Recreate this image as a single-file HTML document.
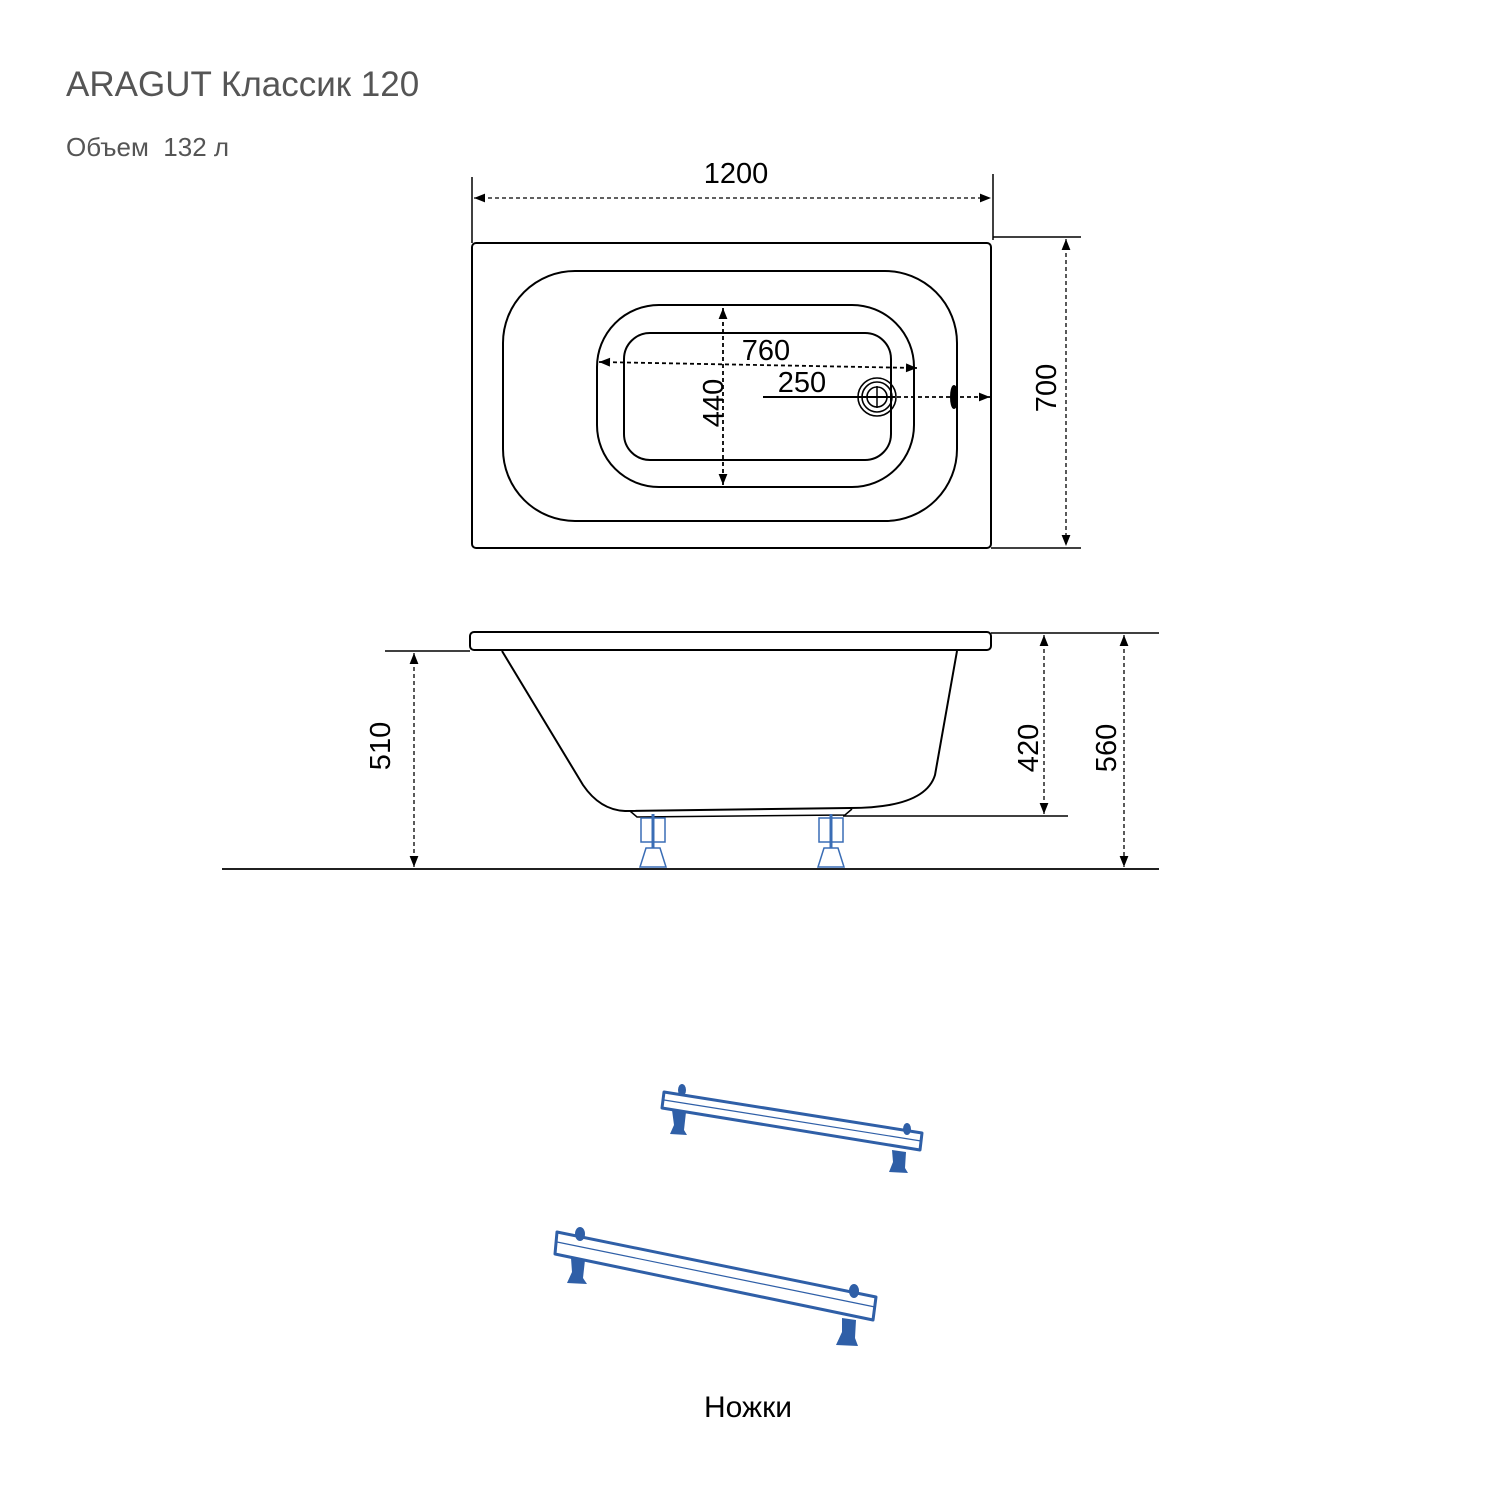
<!DOCTYPE html>
<html><head><meta charset="utf-8"><style>
html,body{margin:0;padding:0;background:#fff}
svg{display:block}
text{font-family:"Liberation Sans",sans-serif}
</style></head><body>
<svg width="1500" height="1500" viewBox="0 0 1500 1500" xmlns="http://www.w3.org/2000/svg">
<defs>
<marker id="a" viewBox="0 0 10 10" refX="10" refY="5" markerWidth="16" markerHeight="11" markerUnits="userSpaceOnUse" orient="auto-start-reverse"><path d="M0,1 L10,5 L0,9 z" fill="#000"/></marker>
</defs>
<text x="66" y="96" font-size="35" fill="#555">ARAGUT Классик 120</text>
<text x="66" y="156" font-size="26" fill="#555">Объем &#160;132 л</text>

<g fill="none" stroke="#000" stroke-width="2">
<rect x="472" y="243" width="519" height="305" rx="4"/>
<rect x="503" y="271" width="454" height="250" rx="72"/>
<rect x="597" y="305" width="317" height="182" rx="62"/>
<rect x="624" y="333" width="267" height="127" rx="26"/>
<line x1="472" y1="177" x2="472" y2="243" stroke-width="1.5"/>
<line x1="993" y1="174" x2="993" y2="240" stroke-width="1.5"/>
<line x1="993" y1="237" x2="1081" y2="237" stroke-width="1.5"/>
<line x1="991" y1="548" x2="1081" y2="548" stroke-width="1.5"/>
<line x1="474" y1="198" x2="991" y2="198" stroke-width="1.3" stroke-dasharray="4,3" marker-start="url(#a)" marker-end="url(#a)"/>
<line x1="1066" y1="239" x2="1066" y2="546" stroke-width="1.3" stroke-dasharray="4,3" marker-start="url(#a)" marker-end="url(#a)"/>
<line x1="599" y1="362" x2="917" y2="368" stroke-width="1.8" stroke-dasharray="4,3" marker-start="url(#a)" marker-end="url(#a)"/>
<line x1="723" y1="308" x2="723" y2="485" stroke-width="1.8" stroke-dasharray="4,3" marker-start="url(#a)" marker-end="url(#a)"/>
<line x1="763" y1="397" x2="895" y2="397" stroke-width="2"/>
<line x1="897" y1="397" x2="990" y2="397" stroke-width="1.8" stroke-dasharray="4,3" marker-end="url(#a)"/>
<circle cx="877" cy="397" r="19" stroke-width="1.6"/>
<circle cx="877" cy="397" r="15" stroke-width="1.6"/>
<circle cx="877" cy="397" r="10" stroke-width="1.6"/>
<line x1="877" y1="386" x2="877" y2="408" stroke-width="1.5"/>
<ellipse cx="954" cy="397" rx="3" ry="11" fill="#000"/>

<rect x="470" y="632" width="521" height="18" rx="4"/>
<path d="M502,651 L583,785 Q600,810 625,811 L850,808 Q925,808 935,775 L957,651"/>
<line x1="385" y1="651" x2="470" y2="651" stroke-width="1.5"/>
<line x1="991" y1="633" x2="1159" y2="633" stroke-width="1.5"/>
<line x1="843" y1="816" x2="1068" y2="816" stroke-width="1.5"/>
<line x1="222" y1="869" x2="1159" y2="869" stroke-width="1.8"/>
<path d="M630,811 L637,817 L845,815 L852,809" stroke-width="1.5"/>
<line x1="414" y1="653" x2="414" y2="867" stroke-width="1.3" stroke-dasharray="4,3" marker-start="url(#a)" marker-end="url(#a)"/>
<line x1="1044" y1="635" x2="1044" y2="814" stroke-width="1.3" stroke-dasharray="4,3" marker-start="url(#a)" marker-end="url(#a)"/>
<line x1="1124" y1="635" x2="1124" y2="867" stroke-width="1.3" stroke-dasharray="4,3" marker-start="url(#a)" marker-end="url(#a)"/>
</g>

<g fill="none" stroke="#3a6db5" stroke-width="1.5">
<rect x="641" y="818" width="24" height="24"/>
<line x1="653" y1="814" x2="653" y2="848" stroke-width="3"/>
<path d="M646,848 L660,848 L666,867 L640,867 z"/>
<rect x="819" y="818" width="24" height="24"/>
<line x1="831" y1="814" x2="831" y2="848" stroke-width="3"/>
<path d="M824,848 L838,848 L844,867 L818,867 z"/>
</g>

<g font-size="29" fill="#000">
<text x="736" y="183" text-anchor="middle">1200</text>
<text x="766" y="360" text-anchor="middle">760</text>
<text x="802" y="392" text-anchor="middle">250</text>
<text transform="translate(1056,388) rotate(-90)" text-anchor="middle">700</text>
<text transform="translate(723,403) rotate(-90)" text-anchor="middle">440</text>
<text transform="translate(390,746) rotate(-90)" text-anchor="middle">510</text>
<text transform="translate(1038,748) rotate(-90)" text-anchor="middle">420</text>
<text transform="translate(1116,748) rotate(-90)" text-anchor="middle">560</text>
</g>

<g stroke="#2f5fa7" stroke-width="3" fill="#fff" stroke-linejoin="round">
<path d="M664,1092 L922,1133 L920,1150 L662,1108 z"/>
<line x1="664" y1="1100" x2="921" y2="1141" stroke-width="1.2"/>
<path d="M557,1232 L876,1297 L873,1320 L555,1254 z"/>
<line x1="557" y1="1242" x2="875" y2="1307" stroke-width="1.2"/>
</g>
<g fill="#2f5fa7">
<path d="M672,1110 L686,1112 L684,1130 L687,1135 L670,1134 L674,1125 z"/>
<path d="M892,1150 L906,1152 L905,1168 L908,1173 L889,1172 L893,1162 z"/>
<path d="M571,1258 L585,1260 L583,1278 L587,1284 L567,1283 L572,1272 z"/>
<path d="M842,1318 L856,1320 L855,1338 L858,1346 L836,1345 L842,1332 z"/>
<ellipse cx="682" cy="1090" rx="4" ry="6"/>
<ellipse cx="907" cy="1129" rx="4" ry="6"/>
<ellipse cx="580" cy="1234" rx="5" ry="7"/>
<ellipse cx="854" cy="1291" rx="5" ry="7"/>
</g>
<text x="748" y="1417" font-size="30" text-anchor="middle" fill="#000">Ножки</text>
</svg>
</body></html>
